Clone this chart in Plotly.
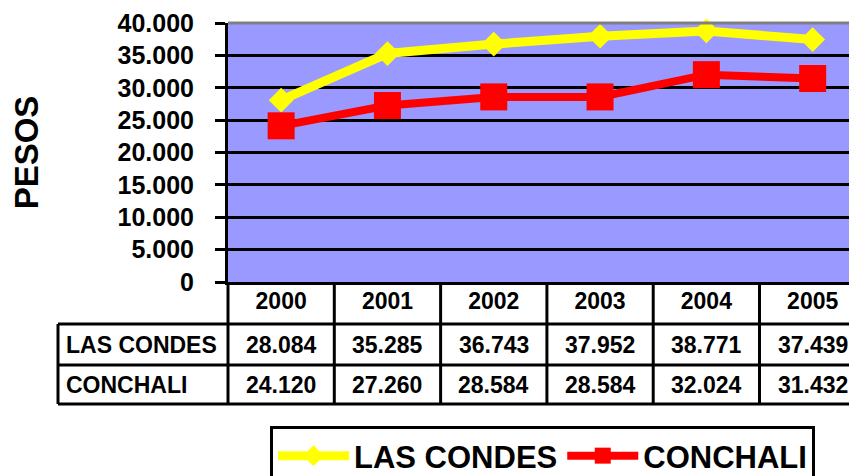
import plotly.graph_objects as go

years = ["2000", "2001", "2002", "2003", "2004", "2005"]
las_condes = [28084, 35285, 36743, 37952, 38771, 37439]
conchali = [24120, 27260, 28584, 28584, 32024, 31432]
series_names = ["LAS CONDES", "CONCHALI"]
y_ticks = [0, 5000, 10000, 15000, 20000, 25000, 30000, 35000, 40000]

# The page body has an 8px margin, so the figure is drawn 8px in from the window corner.
OFF = 8
W, H = 857 - OFF, 476 - OFF
# plot area in window pixels
WL, WT, WR, WB = 228, 23, 857, 282
L, T, R, B = WL - OFF, WT - OFF, WR - OFF, WB - OFF
FONT = "Liberation Sans, Arial, sans-serif"


def px_x(p):
    """window x pixel -> paper x"""
    return (p - WL) / (WR - WL)


def px_y(p):
    """window y pixel -> paper y"""
    return (WB - p) / (WB - WT)


def fmt(v):
    return f"{v:,}".replace(",", ".")


xs = list(range(len(years)))

fig = go.Figure()
fig.add_trace(go.Scatter(
    x=xs, y=las_condes, name=series_names[0], mode="lines+markers",
    line=dict(color="#FFFF00", width=9),
    marker=dict(symbol="diamond", size=19, color="#FFFF00"),
    cliponaxis=False,
))
fig.add_trace(go.Scatter(
    x=xs, y=conchali, name=series_names[1], mode="lines+markers",
    line=dict(color="#FF0000", width=8),
    marker=dict(symbol="square", size=27, color="#FF0000"),
    cliponaxis=False,
))

shapes = []
# top border of plot area (gray)
shapes.append(dict(type="line", xref="paper", yref="paper", x0=0, x1=1, y0=1, y1=1,
                   line=dict(color="#808080", width=3)))
# table horizontal lines
for py in (324, 365, 404):
    shapes.append(dict(type="line", xref="paper", yref="paper", x0=px_x(58), x1=1,
                       y0=px_y(py), y1=px_y(py), line=dict(color="black", width=3)))
# left border of row labels
shapes.append(dict(type="line", xref="paper", yref="paper", x0=px_x(58), x1=px_x(58),
                   y0=px_y(324), y1=px_y(404), line=dict(color="black", width=3)))
# left border of data columns
shapes.append(dict(type="line", xref="paper", yref="paper", x0=0, x1=0,
                   y0=px_y(282), y1=px_y(404), line=dict(color="black", width=3)))
# column separators
for i in range(len(years) - 1):
    shapes.append(dict(type="line", xref="x", yref="paper", x0=i + 0.5, x1=i + 0.5,
                       y0=px_y(282), y1=px_y(404), line=dict(color="black", width=3)))

annotations = []
row_centers = [344.5, 384.5]
cell_font = dict(family=FONT, size=23, color="black", weight="bold")
for name, vals, cy in zip(series_names, [las_condes, conchali], row_centers):
    annotations.append(dict(xref="paper", yref="paper", x=px_x(64), y=px_y(cy),
                            xanchor="left", yanchor="middle", showarrow=False, text=name,
                            font=cell_font))
    for i, v in zip(xs, vals):
        annotations.append(dict(xref="x", yref="paper", x=i, y=px_y(cy),
                                xanchor="center", yanchor="middle", showarrow=False,
                                text=fmt(v), font=cell_font))

fig.update_layout(
    width=W, height=H,
    margin=dict(l=L, r=W - R, t=T, b=H - B, pad=0, autoexpand=False),
    paper_bgcolor="white", plot_bgcolor="#9999FF",
    separators=",.",
    font=dict(family=FONT, color="black"),
    shapes=shapes, annotations=annotations,
    showlegend=True,
    legend=dict(orientation="h", x=px_x(270), y=px_y(426), xanchor="left", yanchor="top",
                bordercolor="black", borderwidth=3, bgcolor="white",
                font=dict(family=FONT, size=31, color="black", weight="bold"),
                itemwidth=71),
)
fig.update_xaxes(
    range=[-0.5, 5.417], tickvals=xs, ticktext=years, showgrid=False, zeroline=False,
    showline=True, linecolor="black", linewidth=3, ticks="", automargin=False,
    ticklabelstandoff=-4,
    tickfont=dict(family=FONT, size=23, color="black", weight="bold"),
    fixedrange=True,
)
fig.update_yaxes(
    range=[0, 40000], tickvals=y_ticks, tickformat=",d", automargin=False,
    showgrid=True, gridcolor="black", gridwidth=3, zeroline=False,
    showline=True, linecolor="black", linewidth=3,
    ticks="outside", ticklen=10, tickwidth=3, tickcolor="black", ticklabelstandoff=16,
    tickfont=dict(family=FONT, size=25, color="black", weight="bold"),
    title=dict(text="PESOS", font=dict(family=FONT, size=33, color="black", weight="bold"),
               standoff=72),
    fixedrange=True,
)

fig.write_html("out.html")
